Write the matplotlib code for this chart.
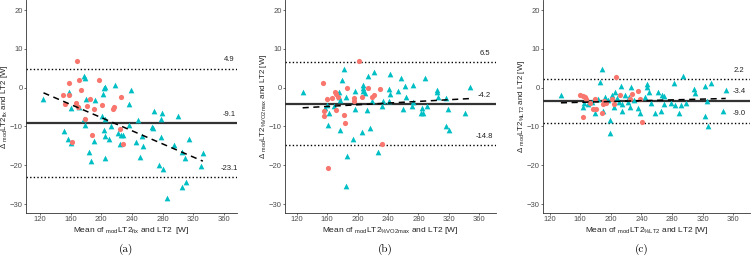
import numpy as np
import matplotlib
matplotlib.use("Agg")
import matplotlib.pyplot as plt

plt.rcParams['font.family'] = ['Liberation Sans', 'DejaVu Sans']
plt.rcParams['mathtext.default'] = 'regular'

RED = '#F8766D'
CYAN = '#00BFC4'

# ---- panel (a): modLT2fix ----
a_red_x = [169, 158, 171, 196.5, 174, 150, 157.5, 153, 167, 170, 185, 181, 201, 191,
           225.5, 217, 215, 179, 225, 162, 188.5, 228.5]
a_red_y = [7.0, 1.3, 2.0, 1.9, -0.7, -2.0, -2.0, -4.2, -4.0, -5.1, -2.9, -4.7, -4.5, -5.5,
           -2.3, -4.9, -5.5, -8.1, -10.7, -13.9, -12.1, -14.5]
a_tri_x = [124.8, 177.8, 178.7, 204.7, 204.3, 218.2, 239.1, 157.4, 160.4, 180.8, 202.6, 191.7,
           236.5, 170.9, 177.4, 178.7, 201.7, 204.7, 268.2, 279.5, 278.2, 299.9, 248.6, 265.6,
           266.9, 213.4, 236.5, 151.7, 157, 161.3, 190.8, 203.9, 204.7, 210.8, 222.1, 225.6,
           228, 224.7, 245.2, 253, 254.7, 278.2, 294.7, 313.8, 304.7, 309.1, 332.5, 329.5,
           183.5, 186.1, 205.2, 250, 275.6, 280, 310.4, 304.7, 285.2]
a_tri_y = [-3.0, 3.1, 2.6, 0.2, -0.2, 0.8, -0.6, -1.2, -5.3, -2.9, -1.6, -3.3,
           -4.1, -4.9, -8.1, -9.6, -7.3, -8.1, -5.9, -6.6, -8.2, -7.4, -8.4, -10.1,
           -10.3, -9.8, -9.6, -11.2, -13.1, -14.2, -13.8, -10.9, -12.5, -13.2, -11.8, -12.1,
           -12.3, -14.4, -13.9, -12.4, -15.0, -12.6, -14.9, -13.2, -16.6, -18.2, -16.9, -20.3,
           -16.7, -18.8, -18.0, -17.8, -19.8, -21.0, -24.4, -25.7, -28.4]
a_stats = [4.9, -9.1, -23.1]          # upper LoA, mean, lower LoA
a_trend = [9.26, -0.0848]             # intercept, slope

# ---- panel (b): modLT2%VO2max ----
b_red_x = [201.4, 154.5, 186.1, 170.3, 171.6, 174.2, 166.4, 159.4, 194.8, 194.8, 205.3,
           214.1, 221.1, 219.4, 229.4, 156.3, 156.3, 171.2, 182.6, 183.4, 232.1, 160.7]
b_red_y = [7.0, 1.3, -0.2, -1.2, -1.6, -2.5, -2.6, -2.9, -2.6, -3.5, -2.3,
           -0.2, -1.9, -2.4, -0.4, -5.9, -7.3, -5.8, -7.1, -9.1, -14.5, -20.6]
b_tri_x = [127.8, 181.7, 179.1, 214.1, 222, 242.1, 257.5, 288.6, 273.2, 262.3, 253.5, 240.8,
           242.6, 304.8, 303.9, 306.1, 348, 206.7, 206.7, 207.1, 210.2, 196.1, 185.2, 176,
           175.6, 176.4, 219.4, 233, 241.7, 264, 272.4, 316.6, 341.1, 159.4, 157.2, 162.4,
           169.4, 196.6, 212.9, 231.6, 259.6, 271, 283.3, 285.5, 291.6, 318.8, 284.2, 160.7,
           176.4, 205.8, 215.9, 316.2, 320.5, 194.4, 185.6, 226.8, 184.8]
b_tri_y = [-1.2, 4.9, 2.0, 3.0, 4.0, 3.4, 2.6, 2.4, 0.7, 0.4, -0.8, -0.3,
           -1.5, -0.5, -1.0, -2.3, 0.3, 0.7, -0.2, -0.8, -1.3, -0.9, -2.3, -1.0,
           -2.3, -3.1, -3.5, -3.5, -3.5, -2.3, -3.6, -2.6, -6.5, -4.5, -5.3, -6.4,
           -4.7, -5.6, -5.8, -4.7, -5.5, -4.7, -6.6, -6.4, -4.7, -5.6, -5.3, -9.6,
           -11.0, -11.3, -10.4, -9.8, -11.0, -13.2, -17.5, -16.7, -25.3]
b_stats = [6.5, -4.2, -14.8]
b_trend = [-6.57, 0.01083]

# ---- panel (c): modLT2%LT2 ----
c_red_x = [206.6, 160, 163.1, 165.7, 167.4, 163.1, 173.1, 176.1, 180.5, 179.2, 188.3,
           190.5, 193.1, 201.3, 203.5, 212.2, 227.9, 235.2, 225.2, 238.3, 240.9, 189.2]
c_red_y = [2.8, -1.9, -2.2, -2.5, -3.0, -7.5, -3.9, -5.5, -5.6, -3.0, -6.5,
           -3.4, -3.9, -2.8, -4.1, -1.9, -1.5, -0.9, -3.0, -3.0, -8.8, -4.1]
c_tri_x = [134.8, 188.3, 185.7, 213.5, 218.7, 226.5, 247, 247.8, 249.6, 261.3, 267, 270,
           282.2, 294.8, 308.3, 309.6, 323.5, 330.8, 350, 164.4, 163.5, 183.5, 191.8, 200.9,
           210.5, 223.1, 225.2, 234.8, 238.3, 215.2, 204.4, 189.6, 179.6, 198.3, 199.2, 258.3,
           265.2, 278.3, 288.7, 292.2, 298.3, 323.5, 326.5, 346.5, 325.2, 170, 175, 196,
           205, 208, 215, 222, 230, 244, 252, 270, 284]
c_tri_y = [-1.9, 4.7, 1.5, 0.5, -2.0, 0.1, 0.9, 0.2, -1.0, -1.1, -1.9, -2.2,
           1.1, 3.1, -0.4, -1.3, 0.4, 1.1, -0.6, -3.9, -4.9, -2.8, -2.5, -1.9,
           -3.6, -2.3, -5.1, -5.3, -6.5, -5.9, -4.9, -5.9, -6.5, -8.4, -11.8, -6.4,
           -6.0, -3.9, -6.5, -4.5, -3.9, -7.3, -9.9, -5.9, -3.5, -4.2, -3.6, -3.2,
           -1.2, -2.6, -4.3, -3.8, -3.3, -2.5, -4.0, -4.2, -4.5]
c_stats = [2.2, -3.4, -9.0]
c_trend = [-4.60, 0.00519]

xlabels = [r"Mean of ${}_{mod}$LT2$_{fix}$ and LT2  [W]",
           r"Mean of ${}_{mod}$LT2$_{\%VO2max}$ and LT2 [W]",
           r"Mean of ${}_{mod}$LT2$_{\%LT2}$ and LT2 [W]"]
ylabels = [r"$\Delta$ ${}_{mod}$LT2$_{fix}$ and LT2 [W]",
           r"$\Delta$ ${}_{mod}$LT2$_{\%VO2max}$ and LT2 [W]",
           r"$\Delta$ ${}_{mod}$LT2$_{\%LT2}$ and LT2 [W]"]
panel_tags = ['(a)', '(b)', '(c)']

panels = [
    (a_red_x, a_red_y, a_tri_x, a_tri_y, a_stats, a_trend),
    (b_red_x, b_red_y, b_tri_x, b_tri_y, b_stats, b_trend),
    (c_red_x, c_red_y, c_tri_x, c_tri_y, c_stats, c_trend),
]

W, H = 754, 261
fig = plt.figure(figsize=(W / 100, H / 100), dpi=100)

boxes = [(26, 211, 102, 377), (285, 211, 104.6, 382), (543, 207, 111.4, 381.7)]

for i, (rx, ry, tx, ty, stats, trend) in enumerate(panels):
    left, width, x0, x1 = boxes[i]
    ax = fig.add_axes([left / W, 48 / H, width / W, 213 / H])

    ax.scatter(tx, ty, marker='^', s=17, color=CYAN, linewidths=0, zorder=3)
    ax.scatter(rx, ry, marker='o', s=14, color=RED, linewidths=0, zorder=3)

    up, mean, lo = stats
    ax.axhline(mean, color='#333333', lw=1.6, zorder=2)
    ax.axhline(up, color='black', lw=1.0, ls=(0, (1, 1.6)), zorder=2)
    ax.axhline(lo, color='black', lw=1.0, ls=(0, (1, 1.6)), zorder=2)

    allx = np.array(list(rx) + list(tx))
    xs = np.array([allx.min(), allx.max()])
    ax.plot(xs, trend[0] + trend[1] * xs, color='black', lw=1.1, ls=(0, (4, 3)), zorder=4)

    for val in stats:
        ax.text(367, val + 1.4, f"{val:.1f}", fontsize=5.5, color='#222222',
                ha='center', va='bottom')

    ax.set_xlim(x0, x1)
    ax.set_ylim(-32.3, 22.6)
    ax.set_xticks([120, 160, 200, 240, 280, 320, 360])
    ax.set_yticks([-30, -20, -10, 0, 10, 20])
    ax.tick_params(labelsize=5.5, labelcolor='#4D4D4D', color='#333333',
                   length=1.5, width=0.5, pad=1)
    for s in ['top', 'right']:
        ax.spines[s].set_visible(False)
    for s in ['left', 'bottom']:
        ax.spines[s].set_color('#333333')
        ax.spines[s].set_linewidth(0.6)
    ax.set_xlabel(xlabels[i], fontsize=6, color='#222222', labelpad=1)
    ax.set_ylabel(ylabels[i], fontsize=5.7, color='#222222', labelpad=0)

    fig.text((left + width / 2 - 5) / W, 1 - 249 / H, panel_tags[i], family='cmr10',
             fontsize=8, ha='center', va='center')

fig.savefig('out.png', dpi=100)
